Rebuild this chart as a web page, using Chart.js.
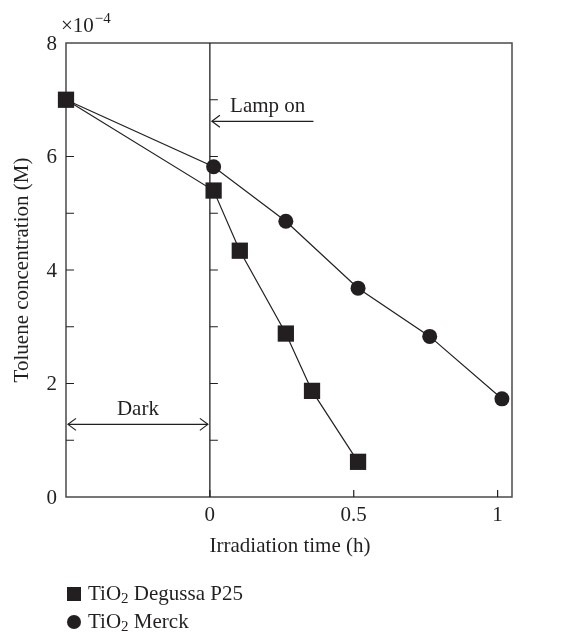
<!DOCTYPE html>
<html>
<head>
<meta charset="utf-8">
<script src="https://cdn.jsdelivr.net/npm/chart.js@4/dist/chart.umd.min.js"></script>
<style>
  html, body { margin: 0; padding: 0; background: #fff; }
  canvas { display: block; }
</style>
</head>
<body>
<canvas id="chart" width="582" height="632"></canvas>
<script>
// irradiation time (h) and toluene concentration (x1e-4 M)
const degussaTime = [-0.5, 0.013, 0.104, 0.264, 0.355, 0.515];
const degussaConc = [7.0, 5.4, 4.34, 2.88, 1.87, 0.62];
const merckTime = [-0.5, 0.013, 0.264, 0.515, 0.764, 1.015];
const merckConc = [7.0, 5.82, 4.86, 3.68, 2.83, 1.73];

const xTicks = [0, 0.5, 1];
const yTicks = [0, 2, 4, 6, 8];
const yMinorTicks = [1, 2, 3, 4, 5, 6, 7];

const ink = '#231f20';
const serif = '"Liberation Serif", "DejaVu Serif", serif';
const fontSize = 21;

const toPoints = (xs, ys) => xs.map((x, i) => ({ x: x, y: ys[i] }));

// draws a simple open arrow head at (x, y) pointing in direction dir (+1 right, -1 left)
function arrowHead(ctx, x, y, dir) {
    ctx.beginPath();
    ctx.moveTo(x - dir * 8, y - 6);
    ctx.lineTo(x, y);
    ctx.lineTo(x - dir * 8, y + 6);
    ctx.stroke();
}

// text with a subscript "2" after the first part, e.g. TiO2
function subText(ctx, x, y, before, sub, after) {
    ctx.font = fontSize + 'px ' + serif;
    ctx.fillText(before, x, y);
    x += ctx.measureText(before).width;
    ctx.font = '15px ' + serif;
    ctx.fillText(sub, x, y + 5);
    x += ctx.measureText(sub).width;
    ctx.font = fontSize + 'px ' + serif;
    ctx.fillText(after, x, y);
}

const decorations = {
    id: 'decorations',
    beforeDatasetsDraw(chart) {
        const ctx = chart.ctx;
        const area = chart.chartArea;
        const xs = chart.scales.x;
        const ys = chart.scales.y;
        const x0 = xs.getPixelForValue(0);

        ctx.save();
        // frame and the lamp-on line
        ctx.lineWidth = 1.5;
        ctx.strokeStyle = '#4a4a4a';
        ctx.strokeRect(area.left, area.top, area.right - area.left, area.bottom - area.top);
        ctx.strokeStyle = ink;
        ctx.lineWidth = 1.3;
        ctx.beginPath();
        ctx.moveTo(x0, area.top);
        ctx.lineTo(x0, area.bottom);
        ctx.stroke();

        // inward ticks
        ctx.lineWidth = 1.2;
        ctx.beginPath();
        yMinorTicks.forEach((v) => {
            const py = ys.getPixelForValue(v);
            ctx.moveTo(area.left, py);
            ctx.lineTo(area.left + 8, py);
            ctx.moveTo(x0, py);
            ctx.lineTo(x0 + 8, py);
        });
        xTicks.forEach((v) => {
            const px = xs.getPixelForValue(v);
            ctx.moveTo(px, area.bottom);
            ctx.lineTo(px, area.bottom - 7);
        });
        ctx.stroke();
        ctx.restore();
    },
    afterDatasetsDraw(chart) {
        const ctx = chart.ctx;
        const area = chart.chartArea;
        const xs = chart.scales.x;
        const ys = chart.scales.y;
        const x0 = xs.getPixelForValue(0);

        ctx.save();
        ctx.strokeStyle = ink;
        ctx.fillStyle = ink;

        // tick labels
        ctx.font = fontSize + 'px ' + serif;
        ctx.textAlign = 'right';
        ctx.textBaseline = 'middle';
        yTicks.forEach((v) => {
            ctx.fillText(String(v), area.left - 9, ys.getPixelForValue(v) + 1);
        });
        ctx.textAlign = 'center';
        xTicks.forEach((v) => {
            ctx.fillText(String(v), xs.getPixelForValue(v), area.bottom + 18);
        });

        // exponent
        ctx.textAlign = 'left';
        ctx.textBaseline = 'alphabetic';
        ctx.font = fontSize + 'px ' + serif;
        ctx.fillText('\u00d710', area.left - 5, 32);
        const w = ctx.measureText('\u00d710').width;
        ctx.font = '15px ' + serif;
        ctx.fillText('\u22124', area.left - 4 + w, 23);

        // axis titles
        ctx.font = fontSize + 'px ' + serif;
        ctx.textAlign = 'center';
        ctx.textBaseline = 'middle';
        ctx.fillText('Irradiation time (h)', (area.left + area.right) / 2 + 1, 546);
        ctx.save();
        ctx.translate(22, (area.top + area.bottom) / 2);
        ctx.rotate(-Math.PI / 2);
        ctx.fillText('Toluene concentration (M)', 0, 0);
        ctx.restore();

        // Lamp on arrow
        const lampY = ys.getPixelForValue(6.62);
        const lampEnd = xs.getPixelForValue(0.36);
        ctx.lineWidth = 1.2;
        ctx.beginPath();
        ctx.moveTo(x0 + 2, lampY);
        ctx.lineTo(lampEnd, lampY);
        ctx.stroke();
        arrowHead(ctx, x0 + 2, lampY, -1);
        ctx.fillText('Lamp on', (x0 + lampEnd) / 2 + 6, lampY - 15);

        // Dark arrow
        const darkY = ys.getPixelForValue(1.28);
        ctx.beginPath();
        ctx.moveTo(area.left + 2, darkY);
        ctx.lineTo(x0 - 2, darkY);
        ctx.stroke();
        arrowHead(ctx, area.left + 2, darkY, -1);
        arrowHead(ctx, x0 - 2, darkY, 1);
        ctx.fillText('Dark', (area.left + x0) / 2, darkY - 15);

        // legend
        ctx.textAlign = 'left';
        ctx.textBaseline = 'middle';
        ctx.fillRect(67, 587, 14, 14);
        subText(ctx, 88, 594, 'TiO', '2', ' Degussa P25');
        ctx.beginPath();
        ctx.arc(74, 622, 7, 0, Math.PI * 2);
        ctx.fill();
        subText(ctx, 88, 622, 'TiO', '2', ' Merck');

        ctx.restore();
    }
};

new Chart(document.getElementById('chart'), {
    type: 'scatter',
    data: {
        datasets: [{
            label: 'TiO2 Degussa P25',
            data: toPoints(degussaTime, degussaConc),
            showLine: true,
            clip: false,
            borderColor: ink,
            backgroundColor: ink,
            borderWidth: 1.2,
            pointStyle: 'rect',
            pointRadius: 11.5,
            pointBorderWidth: 0,
        }, {
            label: 'TiO2 Merck',
            data: toPoints(merckTime, merckConc),
            showLine: true,
            clip: false,
            borderColor: ink,
            backgroundColor: ink,
            borderWidth: 1.2,
            pointStyle: 'circle',
            pointRadius: 7.5,
            pointBorderWidth: 0,
        }]
    },
    options: {
        responsive: false,
        animation: false,
        layout: {
            padding: { left: 66, top: 43, right: 70, bottom: 135 },
        },
        plugins: {
            legend: { display: false },
            tooltip: { enabled: false },
        },
        scales: {
            x: { type: 'linear', min: -0.5, max: 1.05, display: false },
            y: { type: 'linear', min: 0, max: 8, display: false },
        },
    },
    plugins: [decorations],
});
</script>
</body>
</html>
